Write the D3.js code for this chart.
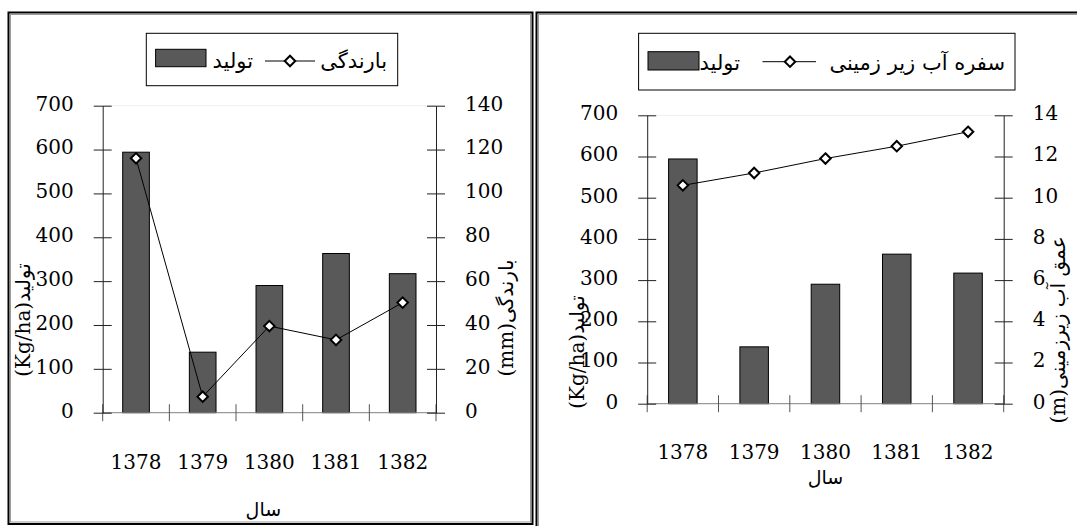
<!DOCTYPE html>
<html>
<head>
<meta charset="utf-8">
<script src="https://cdn.jsdelivr.net/npm/d3@7"></script>
<style>
  html, body { margin: 0; padding: 0; background: #fff; }
  svg { display: block; }
  .num { font-family: "DejaVu Serif", serif; font-size: 20px; fill: #000; }
  .fa { font-family: "DejaVu Sans", sans-serif; font-size: 19px; fill: #000; }
</style>
</head>
<body>
<svg id="chart" width="1077" height="526"></svg>
<script>
(function () {
  'use strict';

  // values
  const YEARS = ['1378', '1379', '1380', '1381', '1382'];
  const PRODUCTION = [594, 138, 290, 363, 317];        // Kg/ha
  const RAINFALL = [116, 7.3, 39.5, 33.2, 50.2];       // mm
  const GROUNDWATER = [10.6, 11.2, 11.9, 12.5, 13.2];  // m

  const PROD_TICKS = [0, 100, 200, 300, 400, 500, 600, 700];
  const RAIN_TICKS = [0, 20, 40, 60, 80, 100, 120, 140];
  const GW_TICKS = [0, 2, 4, 6, 8, 10, 12, 14];

  const BAR_FILL = '#595959';

  const svg = d3.select('#chart');

  // panel frames (double-ish border like the source)
  function frame(x, y, w, h) {
    svg.append('rect').attr('x', x).attr('y', y).attr('width', w).attr('height', h)
      .attr('fill', 'none').attr('stroke', '#000').attr('stroke-width', 2);
    svg.append('rect').attr('x', x + 2).attr('y', y + 2).attr('width', w - 4).attr('height', h - 4)
      .attr('fill', 'none').attr('stroke', '#999').attr('stroke-width', 1);
  }
  frame(8.5, 12.5, 524, 511.5);
  frame(536.5, 12.5, 560, 540);

  const panels = [
    {
      left: 102.7, right: 436, top: 105.7, bottom: 412.7,
      line: RAINFALL, lineMax: 140, lineTicks: RAIN_TICKS,
      xLabelY: 469, yearY: 516,
      yTitle: { x: 23, y: 320, latin: '(Kg/ha)', fa: 'تولید' },
      y2Title: { x: 506, y: 318, latin: '(mm)', fa: 'بارندگی' },
      legend: {
        box: [146.3, 33.3, 251.4, 52.4],
        swatch: [155.6, 49.3, 50.4, 17.4], barText: 253,
        lineX: [265, 315], lineY: 61, marker: 290,
        lineLabel: 'بارندگی', lineText: 387, baseline: 68
      }
    },
    {
      left: 647.2, right: 1003.7, top: 115.3, bottom: 403.7,
      line: GROUNDWATER, lineMax: 14, lineTicks: GW_TICKS,
      xLabelY: 459, yearY: 484,
      yTitle: { x: 577, y: 352, latin: '(Kg/ha)', fa: 'تولید' },
      y2Title: { x: 1058, y: 330, latin: '(m)', fa: 'عمق آب زیرزمینی' },
      legend: {
        box: [638.6, 33.3, 376.4, 56.7],
        swatch: [648, 51.7, 51, 18.3], barText: 740,
        lineX: [762.5, 816], lineY: 61.7, marker: 790,
        lineLabel: 'سفره آب زیر زمینی', lineText: 1005, baseline: 70
      }
    }
  ];

  panels.forEach(drawPanel);

  function diamond(sel, size) {
    return sel.attr('d', d3.symbol().type(d3.symbolDiamond2).size(size)())
      .attr('fill', '#fff').attr('stroke', '#000').attr('stroke-width', 2);
  }

  function drawPanel(p) {
    const g = svg.append('g');

    const xOuter = d3.scaleBand().domain(YEARS).range([p.left, p.right]);
    const x = d3.scaleBand().domain(YEARS).range([p.left, p.right])
      .paddingInner(0.6).paddingOuter(0.3);
    const y = d3.scaleLinear().domain([0, 700]).range([p.bottom, p.top]);
    const y2 = d3.scaleLinear().domain([0, p.lineMax]).range([p.bottom, p.top]);

    // faint top border of the plot area
    g.append('line')
      .attr('x1', p.left).attr('x2', p.right)
      .attr('y1', y(700)).attr('y2', y(700))
      .attr('stroke', '#eee');

    // bars
    g.selectAll('rect.bar')
      .data(PRODUCTION)
      .join('rect')
      .attr('class', 'bar')
      .attr('x', (d, i) => x(YEARS[i]))
      .attr('y', d => y(d))
      .attr('width', x.bandwidth())
      .attr('height', d => y(0) - y(d))
      .attr('fill', BAR_FILL)
      .attr('stroke', '#000')
      .attr('stroke-width', 1);

    // x baseline and boundary ticks
    g.append('line')
      .attr('x1', p.left).attr('x2', p.right)
      .attr('y1', y(0)).attr('y2', y(0))
      .attr('stroke', '#808080');
    const bounds = YEARS.map(yr => xOuter(yr)).concat([p.right]);
    g.selectAll('line.xtick')
      .data(bounds)
      .join('line')
      .attr('class', 'xtick')
      .attr('x1', d => d).attr('x2', d => d)
      .attr('y1', y(0) - 8.5).attr('y2', y(0) + 8.5)
      .attr('stroke', '#555');

    g.selectAll('text.xlab')
      .data(YEARS)
      .join('text')
      .attr('class', 'num xlab')
      .attr('x', d => xOuter(d) + xOuter.bandwidth() / 2)
      .attr('y', p.xLabelY)
      .attr('text-anchor', 'middle')
      .text(d => d);

    g.append('text')
      .attr('class', 'fa')
      .attr('x', (p.left + p.right) / 2 - (p.left < 300 ? 6 : 0))
      .attr('y', p.yearY)
      .attr('text-anchor', 'middle')
      .text('سال');

    // left axis
    const axL = g.append('g')
      .attr('transform', `translate(${p.left},0)`)
      .call(d3.axisLeft(y).tickValues(PROD_TICKS).tickSizeOuter(0).tickSizeInner(9).tickPadding(20));
    styleAxis(axL);

    // right axis
    const axR = g.append('g')
      .attr('transform', `translate(${p.right},0)`)
      .call(d3.axisRight(y2).tickValues(p.lineTicks).tickSizeOuter(0).tickSizeInner(9).tickPadding(20));
    styleAxis(axR);

    // line series
    const lineGen = d3.line()
      .x((d, i) => xOuter(YEARS[i]) + xOuter.bandwidth() / 2)
      .y(d => y2(d));
    g.append('path')
      .datum(p.line)
      .attr('d', lineGen)
      .attr('fill', 'none')
      .attr('stroke', '#000')
      .attr('stroke-width', 1);
    g.selectAll('path.marker')
      .data(p.line)
      .join('path')
      .attr('class', 'marker')
      .attr('transform', (d, i) => `translate(${xOuter(YEARS[i]) + xOuter.bandwidth() / 2},${y2(d)})`)
      .call(diamond, 70);

    // axis titles, rotated
    [p.yTitle, p.y2Title].forEach(t => {
      const txt = g.append('text')
        .attr('transform', `translate(${t.x},${t.y}) rotate(-90)`)
        .attr('text-anchor', 'middle')
        .attr('dominant-baseline', 'central')
        .attr('direction', 'ltr');
      txt.append('tspan').attr('class', 'num').text(t.latin);
      txt.append('tspan').attr('class', 'fa').style('font-size', '20px').text(t.fa);
    });

    // legend
    const L = p.legend;
    g.append('rect')
      .attr('x', L.box[0]).attr('y', L.box[1])
      .attr('width', L.box[2]).attr('height', L.box[3])
      .attr('fill', '#fff').attr('stroke', '#000').attr('stroke-width', 1);
    g.append('rect')
      .attr('x', L.swatch[0]).attr('y', L.swatch[1])
      .attr('width', L.swatch[2]).attr('height', L.swatch[3])
      .attr('fill', BAR_FILL).attr('stroke', '#000');
    g.append('text').attr('class', 'fa')
      .style('font-size', '21px')
      .attr('x', L.barText).attr('y', L.baseline)
      .attr('text-anchor', 'end').text('تولید');
    g.append('line')
      .attr('x1', L.lineX[0]).attr('x2', L.lineX[1])
      .attr('y1', L.lineY).attr('y2', L.lineY)
      .attr('stroke', '#000');
    g.append('path')
      .attr('transform', `translate(${L.marker},${L.lineY})`)
      .call(diamond, 70);
    g.append('text').attr('class', 'fa')
      .style('font-size', '21px')
      .attr('x', L.lineText).attr('y', L.baseline)
      .attr('text-anchor', 'end').text(L.lineLabel);
  }

  function styleAxis(ax) {
    ax.select('.domain').attr('stroke', '#222');
    ax.selectAll('.tick line').attr('x1', -9).attr('x2', 9).attr('stroke', '#222');
    ax.selectAll('.tick text')
      .attr('class', 'num')
      .attr('font-family', null).attr('font-size', null)
      .attr('dy', '0.22em');
  }
})();
</script>
</body>
</html>
